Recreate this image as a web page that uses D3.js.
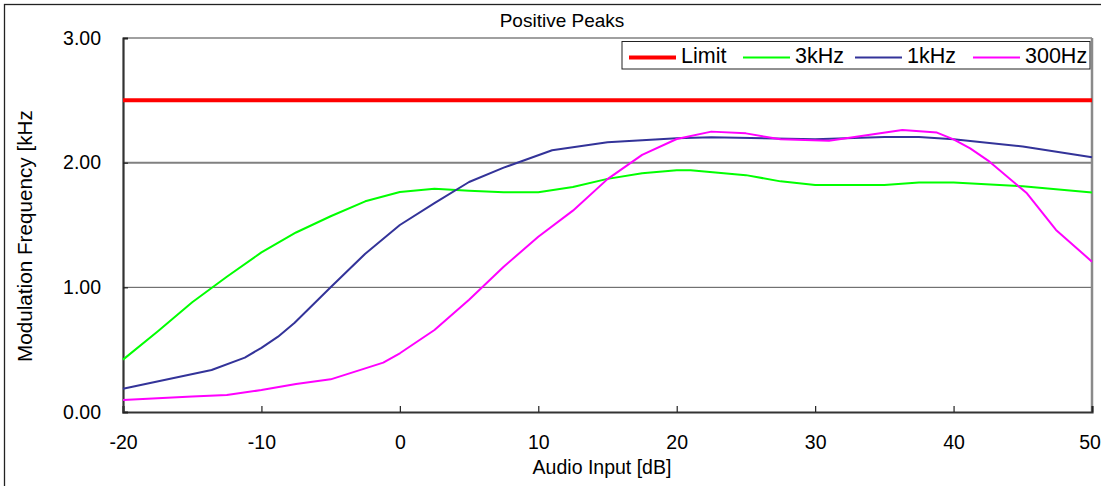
<!DOCTYPE html>
<html><head><meta charset="utf-8">
<script src="https://cdn.jsdelivr.net/npm/d3@7"></script>
<style>
body{margin:0;background:#fff}
svg{display:block}
text{font-family:"Liberation Sans",Arial,sans-serif;fill:#000}
</style>
</head><body>
<svg id="c" width="1101" height="486"></svg>
<script>
// ---- data ----
const chartTitle = "Positive Peaks";
const xTitle = "Audio Input [dB]";
const yTitle = "Modulation Frequency [kHz]";
const xTicks = [-20, -10, 0, 10, 20, 30, 40, 50];
const yTicks = [0, 1, 2, 3];
const seriesNames = ["Limit", "3kHz", "1kHz", "300Hz"];
const seriesColors = ["#ff0000", "#00ff00", "#333399", "#ff00ff"];
const limitValue = 2.5;

const x3k = [-20,-17.5,-15,-12.5,-10,-7.5,-5,-2.5,0,2.5,5,7.5,10,12.5,15,17.5,20,21,25,27.5,30,35,37.5,40,45,50];
const y3k = [0.42,0.645,0.88,1.085,1.28,1.44,1.57,1.69,1.765,1.79,1.775,1.762,1.762,1.805,1.87,1.915,1.94,1.94,1.90,1.85,1.82,1.82,1.84,1.84,1.81,1.76];

const x1k = [-20,-13.6,-11.2,-10,-8.8,-7.6,-5,-2.5,0,2.5,5,7.5,11,15,20,22.5,30,35,37.5,40,45,50];
const y1k = [0.187,0.337,0.436,0.515,0.604,0.716,1.0,1.27,1.5,1.675,1.845,1.96,2.10,2.163,2.195,2.203,2.187,2.205,2.205,2.187,2.13,2.043];

const x300 = [-20,-17.5,-15,-12.5,-10,-7.5,-5,-2.5,-1.2,0,2.5,5,7.5,10,12.5,15,17.5,20,22.5,25,27.5,31,36.3,38.8,40,41.2,42.6,45.3,47.4,50];
const y300 = [0.096,0.11,0.124,0.136,0.176,0.225,0.262,0.35,0.396,0.471,0.658,0.9,1.165,1.406,1.615,1.868,2.062,2.19,2.249,2.235,2.187,2.176,2.262,2.241,2.187,2.115,2.008,1.754,1.46,1.206];

// ---- layout ----
const svg = d3.select("#c");
const L = 123, R = 1092, T = 38, B = 412;
const x = d3.scaleLinear().domain([-20, 50]).range([L, R]);
const y = d3.scaleLinear().domain([0, 3]).range([B, T]);

// outer frame
svg.append("rect").attr("x", 4.5).attr("y", 4.5).attr("width", 1200).attr("height", 600)
  .attr("fill", "none").attr("stroke", "#222").attr("stroke-width", 1.3);

// title
svg.append("text").attr("x", 562).attr("y", 27).attr("text-anchor", "middle")
  .style("font-size", "19px").text(chartTitle);

// gridlines
svg.append("line").attr("x1", L).attr("x2", R).attr("y1", y(2)).attr("y2", y(2))
  .attr("stroke", "#808080").attr("stroke-width", 2);
svg.append("line").attr("x1", L).attr("x2", R).attr("y1", y(1)).attr("y2", y(1))
  .attr("stroke", "#555").attr("stroke-width", 1);
// top & right border
svg.append("line").attr("x1", L).attr("x2", R).attr("y1", y(3)).attr("y2", y(3))
  .attr("stroke", "#808080").attr("stroke-width", 1.5);
svg.append("line").attr("x1", R).attr("x2", R).attr("y1", T).attr("y2", B)
  .attr("stroke", "#8a8a8a").attr("stroke-width", 2.5);

// axes
const xAxis = svg.append("g").attr("transform", `translate(0,${B})`)
  .call(d3.axisBottom(x).tickValues(xTicks).tickSize(-6).tickPadding(23).tickFormat(d => String(d)));
const yAxis = svg.append("g").attr("transform", `translate(${L},0)`)
  .call(d3.axisLeft(y).tickValues(yTicks).tickSize(-5).tickPadding(22).tickFormat(d => d.toFixed(2)));
[xAxis, yAxis].forEach(g => {
  g.select(".domain").attr("stroke", "#333").attr("stroke-width", 2.2);
  g.selectAll(".tick line").attr("stroke", "#222").attr("stroke-width", 1.2);
  g.selectAll(".tick text").style("font-size", "19.5px").attr("fill", "#000")
    .style("font-family", '"Liberation Sans",Arial,sans-serif');
});
// keep the last x label inside the picture
xAxis.selectAll(".tick text").filter(d => d === xTicks[xTicks.length - 1]).attr("dx", -2.5);

// axis titles
svg.append("text").attr("x", 602).attr("y", 474).attr("text-anchor", "middle")
  .style("font-size", "19.5px").text(xTitle);
svg.append("clipPath").attr("id", "yclip").append("rect")
  .attr("x", 0).attr("y", 111).attr("width", 60).attr("height", 300);
svg.append("g").attr("clip-path", "url(#yclip)")
  .append("text").attr("transform", "translate(32,362) rotate(-90)")
  .attr("text-anchor", "start").style("font-size", "20.7px").text(yTitle);

// series
const line = d3.line().x(d => x(d[0])).y(d => y(d[1]));
const series = [
  {xs: [-20, 50], ys: [limitValue, limitValue], c: seriesColors[0], w: 4},
  {xs: x3k, ys: y3k, c: seriesColors[1], w: 2},
  {xs: x1k, ys: y1k, c: seriesColors[2], w: 2},
  {xs: x300, ys: y300, c: seriesColors[3], w: 2}
];
series.forEach(s => {
  svg.append("path").datum(d3.zip(s.xs, s.ys)).attr("d", line)
    .attr("fill", "none").attr("stroke", s.c).attr("stroke-width", s.w)
    .attr("stroke-linejoin", "round");
});

// legend
const lg = svg.append("g");
lg.append("rect").attr("x", 622).attr("y", 41.5).attr("width", 468).attr("height", 27.5)
  .attr("fill", "#fff").attr("stroke", "#222").attr("stroke-width", 1);
const legX = [629, 743, 855, 973];
seriesNames.forEach((n, i) => {
  lg.append("line").attr("x1", legX[i]).attr("x2", legX[i] + 47).attr("y1", 57.5).attr("y2", 57.5)
    .attr("stroke", seriesColors[i]).attr("stroke-width", i === 0 ? 4 : 2);
  lg.append("text").attr("x", legX[i] + 52).attr("y", 63).style("font-size", "21.5px").text(n);
});
</script>
</body></html>
